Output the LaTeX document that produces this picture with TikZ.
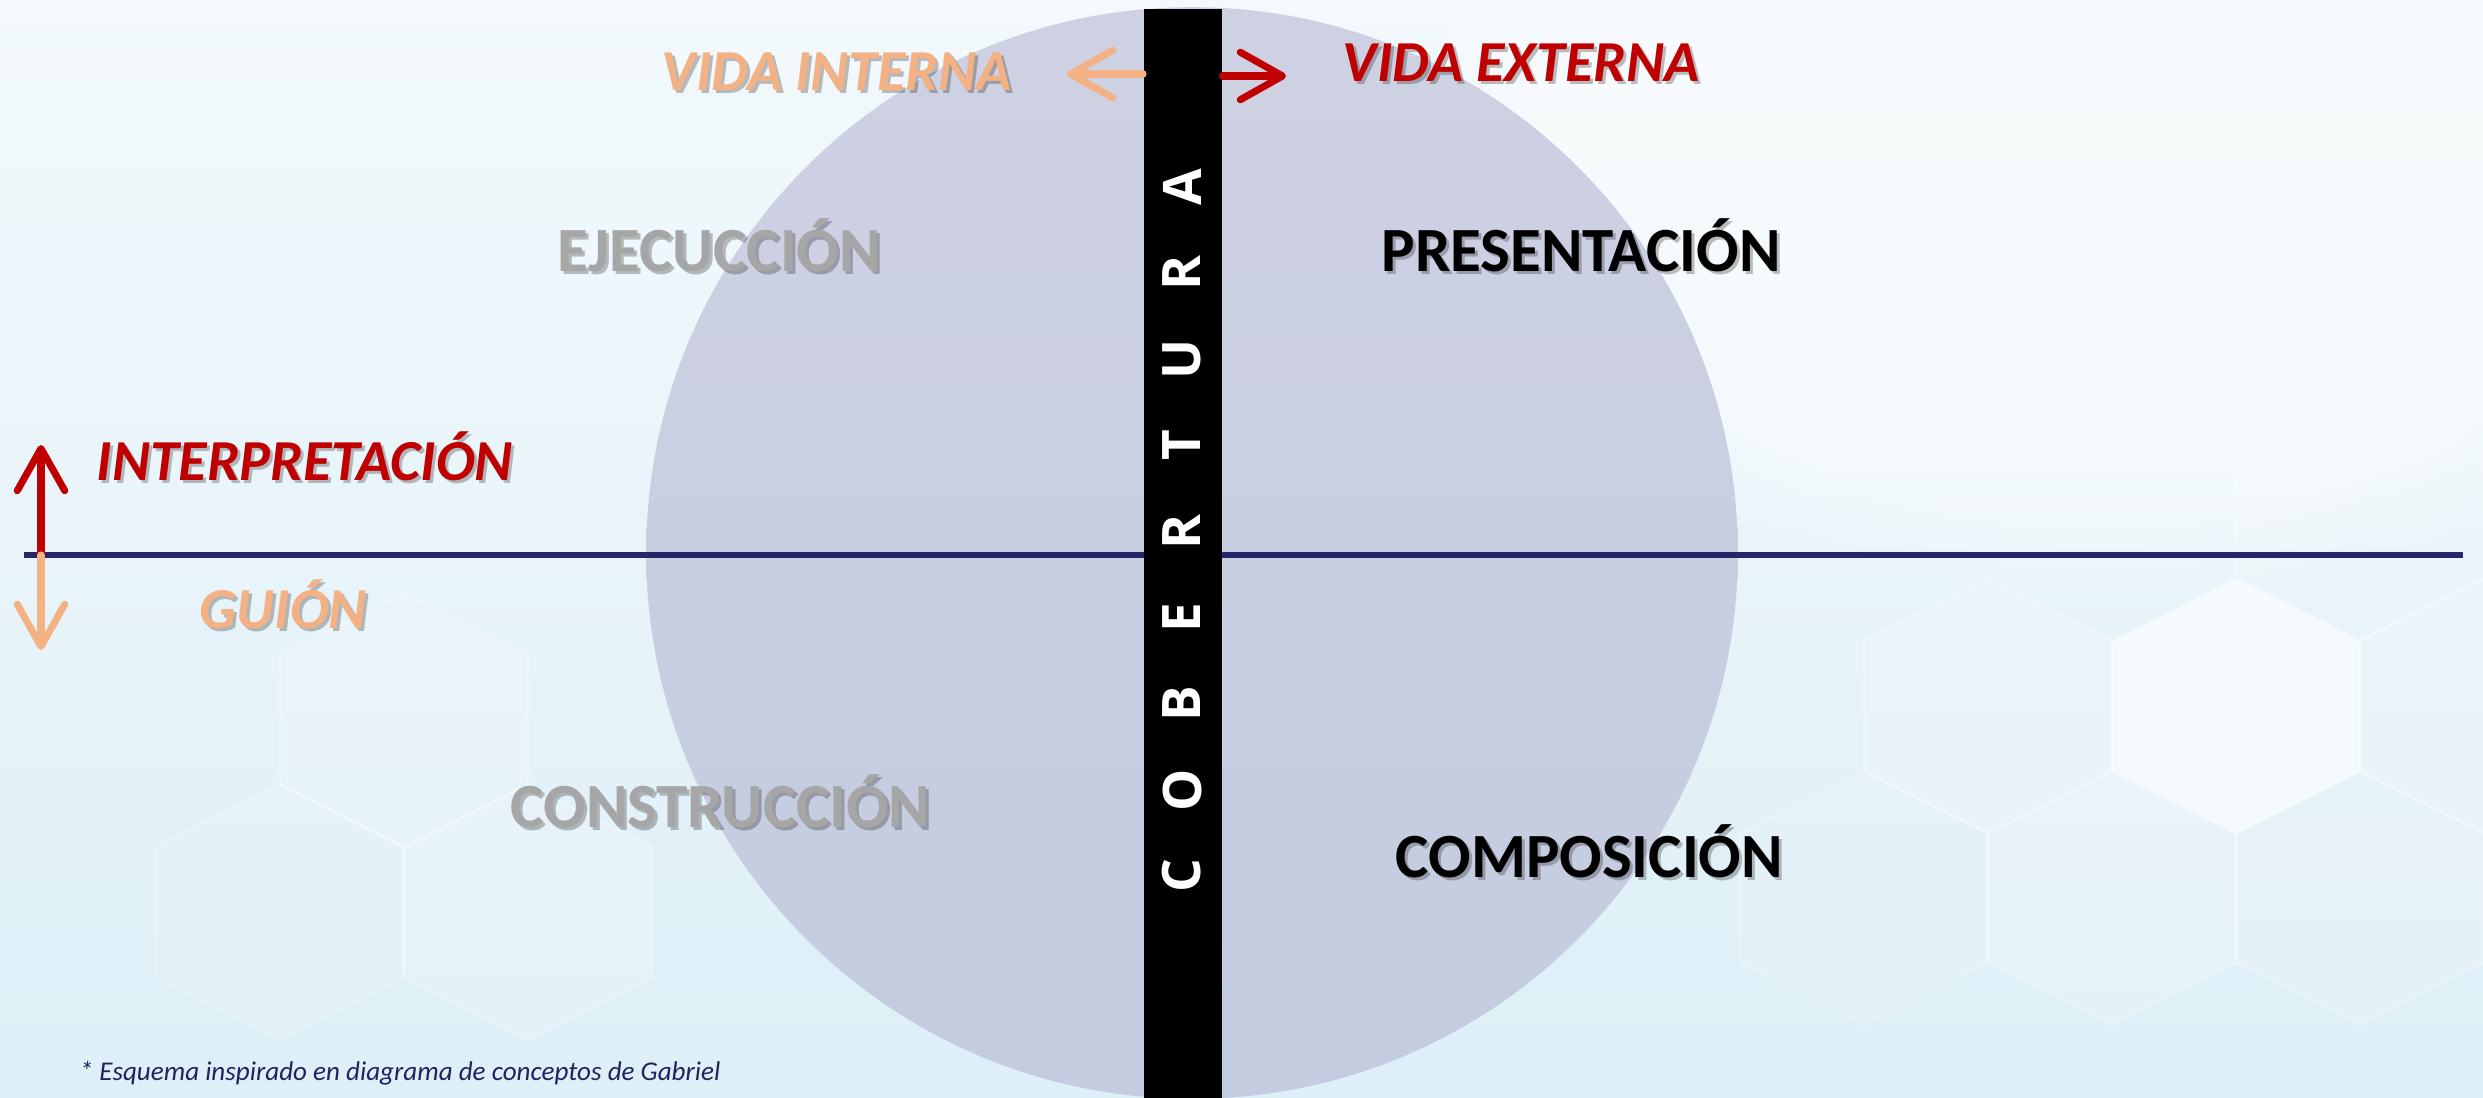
\documentclass[tikz,border=0pt]{standalone}
\usepackage{fontspec}
\setmainfont{Carlito}
\newfontfamily\osans{Open Sans}
\usetikzlibrary{arrows.meta,calc,fadings}
\definecolor{orangeT}{HTML}{F4B183}
\definecolor{redT}{HTML}{C00000}
\definecolor{grayT}{HTML}{A6A6A6}
\definecolor{navyL}{RGB}{40,38,105}
\definecolor{noteC}{RGB}{35,33,95}
\definecolor{bgtop}{RGB}{243,249,252}
\definecolor{bgbot}{RGB}{221,239,247}
\definecolor{disktop}{RGB}{206,209,226}
\definecolor{diskbot}{RGB}{196,204,224}
\newcommand\slabel[4]{%
  \node[#3,shadowtxt,anchor=base west,xshift=0.03cm,yshift=-0.03cm] (#1s) at (#2) {#4};
  \node[#3,anchor=base west] (#1) at (#2) {#4};}
\begin{document}
\begin{tikzpicture}[x=0.01cm,y=-0.01cm,
  boldlbl/.style={inner sep=0,font=\fontsize{17.9}{20}\selectfont\bfseries},
  itallbl/.style={inner sep=0,font=\fontsize{16.5}{19}\selectfont\bfseries\itshape},
  shadowtxt/.style={text=black,text opacity=0.25},
  covl/.style={inner sep=0,rotate=90,text=white,font=\osans\fontsize{15.1}{17}\selectfont\bfseries},
  hexf/.style={fill=white,fill opacity=#1,draw=white,draw opacity=0.25,line width=0.8pt},
  barbR/.style={-{Straight Barb[length=12pt,width=13.5pt,round]},line width=2pt,line cap=round,draw=redT},
  barbO/.style={-{Straight Barb[length=12pt,width=13.5pt,round]},line width=2pt,line cap=round,draw=orangeT}]
\useasboundingbox (0,0) rectangle (2483,1097);
% background
\shade[top color=bgtop,bottom color=bgbot] (0,0) rectangle (2483,1097);
\fill[white,opacity=0.45,path fading=circle with fuzzy edge 20 percent] (2100,150) ellipse (700 and 450);
% faint hexagons
\foreach \cx/\cy/\op in {2236/706/0.6,1988/706/0.15,2484/706/0.15,2360/514/0.12,2112/898/0.18,2360/898/0.14,1864/898/0.1,404/720/0.12,528/912/0.15,280/912/0.1}
  \filldraw[hexf=\op] (\cx,\cy) +(0,-127) -- +(124,-65) -- +(124,65) -- +(0,127) -- +(-124,65) -- +(-124,-65) -- cycle;
% disk
\node[circle,minimum size=10.91cm,inner sep=0,top color=disktop,bottom color=diskbot,draw=none] (disk) at (1192,553) {};
% horizontal axis
\coordinate (hl) at (24,555);
\coordinate (hr) at (2463,555);
\draw[navyL,line width=1.7pt] (hl) -- (hr);
% vertical bar
\node[fill=black,inner sep=0,minimum width=0.78cm,minimum height=10.89cm,anchor=north west] (bar) at (1143,8) {};
\foreach \l [count=\i from 0] in {C,O,B,E,R,T,U,R,A}
  \node[covl] (cov\i) at (1182,{876-86.1*\i}) {\l};
% labels
\slabel{vi}{661,91}{itallbl,text=orangeT}{VIDA INTERNA}
\slabel{ve}{1342,82}{itallbl,text=redT}{VIDA EXTERNA}
\slabel{ej}{557,271}{boldlbl,text=grayT}{EJECUCCIÓN}
\slabel{pr}{1381,271}{boldlbl,text=black}{PRESENTACIÓN}
\slabel{in}{96,480}{itallbl,text=redT}{INTERPRETACIÓN}
\slabel{gu}{199,628}{itallbl,text=orangeT}{GUIÓN}
\slabel{co}{510,827}{boldlbl,text=grayT}{CONSTRUCCIÓN}
\slabel{cm}{1395,877}{boldlbl,text=black}{COMPOSICIÓN}
% arrows
\coordinate (vit) at (1067,74);
\coordinate (vet) at (1286,76);
\draw[barbO] (bar.west |- vit) -- (vit);
\draw[barbR] (bar.east |- vet) -- (vet);
\coordinate (ax) at (41,555);
\coordinate (upt) at (41,445);
\coordinate (dnt) at (41,650);
\draw[barbR] (ax) -- (upt);
\draw[barbO] (ax) -- (dnt);
% footnote
\node[inner sep=0,anchor=base west,text=noteC,font=\fontsize{7.7}{9}\selectfont\itshape] (note) at (79,1080) {* Esquema inspirado en diagrama de conceptos de Gabriel};
\end{tikzpicture}
\end{document}
